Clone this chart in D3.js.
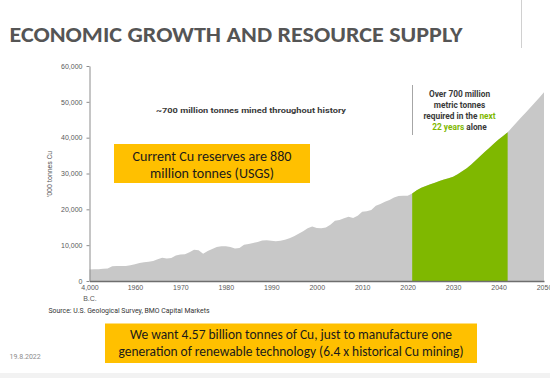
<!DOCTYPE html>
<html>
<head>
<meta charset="utf-8">
<script src="https://cdn.jsdelivr.net/npm/d3@7"></script>
<style>
  body { margin: 0; background: #fff; }
  svg { display: block; font-family: Roboto, 'Liberation Sans', sans-serif; }
</style>
</head>
<body>
<svg id="chart" width="550" height="378"></svg>
<script>
// annual mine output, '000 tonnes Cu (first point stands for 4,000 B.C.)
const historyStart = 1950;
const historyValues = [
  3200, 3250, 3300, 3400, 3500, 4100, 4200, 4200, 4200, 4400,
  4700, 5000, 5200, 5400, 5600, 6100, 6500, 6300, 6400, 7100,
  7400, 7500, 8000, 8700, 8600, 7600, 8400, 8900, 9500, 9700,
  9700, 9500, 9100, 9200, 10100, 10300, 10600, 10900, 11300, 11400,
  11200, 11100, 11200, 11500, 11900, 12500, 13200, 13900, 14700, 15200,
  14800, 14700, 14900, 15700, 16800, 17000, 17500, 17900, 17600, 18200,
  19300, 19500, 19800, 21000, 21500, 22100, 22600, 23300, 23700, 23800,
  23800, 24400
];
const projectionStart = 2021;
const projectionValues = [
  24400, 25300, 26000, 26500, 27000, 27400, 27900, 28300, 28700, 29100,
  29800, 30600, 31500, 32500, 33700, 34900, 36100, 37200, 38400, 39500,
  40500, 41500, 42900, 44300, 45700, 47000, 48400, 49800, 51200, 52700
];
const highlightYears = [2021, 2042];
const xTicks = [1950, 1960, 1970, 1980, 1990, 2000, 2010, 2020, 2030, 2040, 2050];
const yTicks = [0, 10000, 20000, 30000, 40000, 50000, 60000];

const titleText = 'ECONOMIC GROWTH AND RESOURCE SUPPLY';
const historyNote = '~700 million tonnes mined throughout history';
const reserveLines = ['Current Cu reserves are 880', 'million tonnes (USGS)'];
const futureLines = [
  [['Over 700 million', false]],
  [['metric tonnes', false]],
  [['required in the ', false], ['next', true]],
  [['22 years', true], [' alone', false]]
];
const bottomLines = [
  'We want 4.57 billion tonnes of Cu, just to manufacture one',
  'generation of renewable technology (6.4 x historical Cu mining)'
];
const sourceText = 'Source: U.S. Geological Survey, BMO Capital Markets';
const dateText = '19.8.2022';

const history = historyValues.map((v, i) => ({ year: historyStart + i, value: v }));
const projection = projectionValues.map((v, i) => ({ year: projectionStart + i, value: v }));
const series = history.concat(projection.slice(1));
const highlight = series.filter((d) => d.year >= highlightYears[0] && d.year <= highlightYears[1]);

const svg = d3.select('#chart');
const boxFont = "Carlito, Calibri, Lato, 'Open Sans', sans-serif";

const x = d3.scaleLinear().domain([1950, 2050]).range([89.5, 544]);
const y = d3.scaleLinear().domain([0, 60000]).range([281, 66]);

const area = d3.area()
  .x((d) => x(d.year))
  .y0(y(0))
  .y1((d) => y(d.value));

svg.append('rect').attr('width', 550).attr('height', 378).attr('fill', '#fff');
svg.append('rect').attr('x', 0).attr('y', 373).attr('width', 550).attr('height', 5).attr('fill', '#f2f2f2');
svg.append('line').attr('x1', 521.5).attr('x2', 521.5).attr('y1', 0).attr('y2', 48)
  .attr('stroke', '#d0d0d0').attr('stroke-width', 1);

svg.append('text')
  .attr('x', 9.5).attr('y', 42)
  .attr('font-family', boxFont)
  .attr('font-size', 23).attr('font-weight', 'bold')
  .attr('fill', '#555')
  .attr('textLength', 453).attr('lengthAdjust', 'spacingAndGlyphs')
  .text(titleText);

svg.append('path').datum(series).attr('fill', '#c8c8c8').attr('d', area);
svg.append('path').datum(highlight).attr('fill', '#7fb800').attr('d', area);

const yAxis = svg.append('g')
  .attr('transform', 'translate(89.5,0)')
  .call(d3.axisLeft(y).tickValues(yTicks).tickFormat(d3.format(',')).tickSize(3).tickPadding(4).tickSizeOuter(0));
yAxis.select('.domain').attr('stroke', '#8c8c8c');
yAxis.selectAll('.tick line').attr('stroke', '#8c8c8c');
yAxis.selectAll('.tick text').attr('font-size', 7).attr('fill', '#595959').attr('font-family', null);

const xAxis = svg.append('g')
  .attr('transform', `translate(0,${y(0)})`)
  .call(d3.axisBottom(x).tickValues(xTicks).tickFormat((d) => (d === 1950 ? '4,000' : d)).tickSize(0).tickPadding(4));
xAxis.select('.domain').attr('stroke', '#6e6e6e').attr('stroke-width', 1.5);
xAxis.selectAll('.tick text').attr('font-size', 7).attr('fill', '#595959').attr('font-family', null);
xAxis.selectAll('.tick').filter((d) => d === 1950).append('text')
  .attr('y', 15).attr('dy', '0.71em')
  .attr('fill', '#595959').attr('font-size', 7)
  .text('B.C.');

svg.append('text')
  .attr('transform', 'translate(52,174) rotate(-90)')
  .attr('text-anchor', 'middle')
  .attr('font-size', 7).attr('fill', '#595959')
  .text("'000 tonnes Cu");

svg.append('text')
  .attr('x', 251).attr('y', 113)
  .attr('text-anchor', 'middle')
  .attr('font-size', 7.8).attr('font-weight', 'bold').attr('fill', '#3a3a3a')
  .attr('textLength', 190).attr('lengthAdjust', 'spacingAndGlyphs')
  .text(historyNote);

// reserves box
svg.append('rect').attr('x', 114).attr('y', 144).attr('width', 196).attr('height', 39).attr('fill', '#ffc000');
const reserveWidths = [159, 124];
reserveLines.forEach((line, i) => {
  svg.append('text')
    .attr('x', 212).attr('y', 160.5 + i * 17.5)
    .attr('text-anchor', 'middle')
    .attr('font-family', boxFont).attr('font-size', 13.5).attr('fill', '#1a1a1a')
    .attr('textLength', reserveWidths[i]).attr('lengthAdjust', 'spacingAndGlyphs')
    .text(line);
});

// future demand note
svg.append('line').attr('x1', 412.5).attr('x2', 412.5).attr('y1', 85).attr('y2', 135)
  .attr('stroke', '#a6a6a6').attr('stroke-width', 1);
futureLines.forEach((parts, i) => {
  const t = svg.append('text')
    .attr('x', 459.5).attr('y', 96.5 + i * 11.2)
    .attr('text-anchor', 'middle')
    .attr('font-size', 8.3).attr('font-weight', 'bold').attr('fill', '#3a3a3a');
  parts.forEach(([str, green]) => {
    t.append('tspan').attr('fill', green ? '#7fb800' : '#3a3a3a').text(str);
  });
});

svg.append('text')
  .attr('x', 48.5).attr('y', 313)
  .attr('font-size', 6.5).attr('fill', '#333')
  .attr('textLength', 161).attr('lengthAdjust', 'spacingAndGlyphs')
  .text(sourceText);

// bottom box
svg.append('rect').attr('x', 105).attr('y', 323.5).attr('width', 372).attr('height', 39.5).attr('fill', '#ffc000');
const bottomWidths = [322, 345];
bottomLines.forEach((line, i) => {
  svg.append('text')
    .attr('x', 291).attr('y', 339 + i * 17.4)
    .attr('text-anchor', 'middle')
    .attr('font-family', boxFont).attr('font-size', 13.5).attr('fill', '#1a1a1a')
    .attr('textLength', bottomWidths[i]).attr('lengthAdjust', 'spacingAndGlyphs')
    .text(line);
});

svg.append('text')
  .attr('x', 9.5).attr('y', 359)
  .attr('font-size', 7).attr('fill', '#8c8c8c')
  .text(dateText);
</script>
</body>
</html>
